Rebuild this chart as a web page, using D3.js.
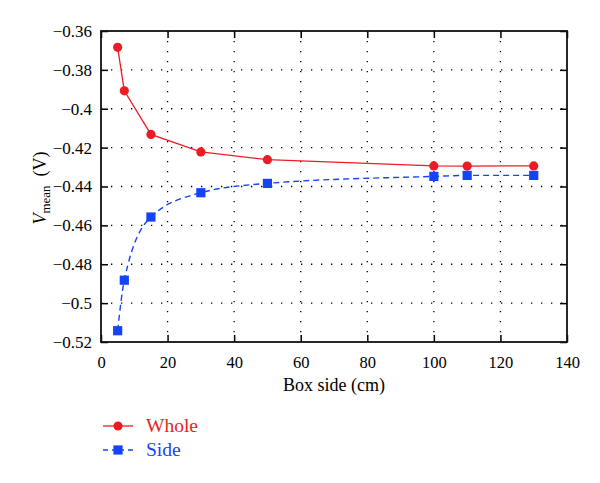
<!DOCTYPE html>
<html><head><meta charset="utf-8">
<script src="https://cdn.jsdelivr.net/npm/d3@7"></script>
<style>body{margin:0;background:#fff}svg{display:block}text{font-family:"Liberation Serif","DejaVu Serif",serif}</style>
</head><body><svg id="c" width="600" height="483"></svg>
<script>
const boxSide = [5, 7, 15, 30, 50, 100, 110, 130];
const wholeValues = [-0.3684, -0.3908, -0.4132, -0.4222, -0.4262, -0.4294, -0.4295, -0.4294];
const sideValues = [-0.5142, -0.4882, -0.4557, -0.4432, -0.4384, -0.4348, -0.4343, -0.4343];
const xTicks = [0, 20, 40, 60, 80, 100, 120, 140];
const yTicks = [-0.36, -0.38, -0.40, -0.42, -0.44, -0.46, -0.48, -0.50, -0.52];
const seriesNames = ["Whole", "Side"];

const red = "#ec1c24", blue = "#1444f5";
const svg = d3.select("#c");
const L = 101, R = 567, T = 31, B = 342;
const x = d3.scaleLinear().domain([0, 140]).range([L, R]);
const y = d3.scaleLinear().domain([-0.52, -0.36]).range([B, T]);
const fmtY = v => { const s = (+v.toFixed(2)).toString(); return s.replace("-", "\u2212"); };
const FF = "'Liberation Serif','DejaVu Serif',serif";

// grid
const g = svg.append("g");
xTicks.slice(1, -1).forEach(t => g.append("line").attr("x1", x(t)).attr("x2", x(t)).attr("y1", T).attr("y2", B)
  .attr("stroke", "#000").attr("stroke-width", 1.3).attr("stroke-dasharray", "1.3,8.7"));
yTicks.slice(1, -1).forEach(t => g.append("line").attr("x1", L).attr("x2", R).attr("y1", y(t)).attr("y2", y(t))
  .attr("stroke", "#000").attr("stroke-width", 1.3).attr("stroke-dasharray", "1.3,8.7"));

// axes with inward ticks
const tk = 7;
svg.append("g").attr("transform", `translate(0,${B})`).call(d3.axisBottom(x).tickValues(xTicks).tickSizeInner(-tk).tickSizeOuter(0).tickPadding(14))
  .call(a => { a.select(".domain").remove(); a.selectAll("line").attr("stroke-width", 1.5); a.selectAll("text").attr("font-size", 16.5).attr("font-family", FF).attr("fill", "#000"); });
svg.append("g").attr("transform", `translate(0,${T})`).call(d3.axisTop(x).tickValues(xTicks).tickSizeInner(-tk).tickSizeOuter(0).tickFormat(""))
  .call(a => { a.select(".domain").remove(); a.selectAll("line").attr("stroke-width", 1.5); });
svg.append("g").attr("transform", `translate(${L},0)`).call(d3.axisLeft(y).tickValues(yTicks).tickSizeInner(-tk).tickSizeOuter(0).tickPadding(9).tickFormat(fmtY))
  .call(a => { a.select(".domain").remove(); a.selectAll("line").attr("stroke-width", 1.5); a.selectAll("text").attr("font-size", 17).attr("font-family", FF).attr("fill", "#000"); });
svg.append("g").attr("transform", `translate(${R},0)`).call(d3.axisRight(y).tickValues(yTicks).tickSizeInner(-tk).tickSizeOuter(0).tickFormat(""))
  .call(a => { a.select(".domain").remove(); a.selectAll("line").attr("stroke-width", 1.5); });
svg.append("rect").attr("x", L).attr("y", T).attr("width", R - L).attr("height", B - T)
  .attr("fill", "none").attr("stroke", "#111").attr("stroke-width", 1.8);

// lines
const wholeData = boxSide.map((b, i) => [b, wholeValues[i]]);
const sideData = boxSide.map((b, i) => [b, sideValues[i]]);
const lineLin = d3.line().x(d => x(d[0])).y(d => y(d[1]));
const lineSm = d3.line().x(d => x(d[0])).y(d => y(d[1])).curve(d3.curveMonotoneX);
svg.append("path").attr("d", lineLin(wholeData)).attr("fill", "none").attr("stroke", red).attr("stroke-width", 1.3);
svg.append("path").attr("d", lineSm(sideData)).attr("fill", "none").attr("stroke", blue).attr("stroke-width", 1.4).attr("stroke-dasharray", "6,4");
svg.selectAll(".wp").data(wholeData).enter().append("circle").attr("cx", d => x(d[0])).attr("cy", d => y(d[1])).attr("r", 4.6).attr("fill", red);
svg.selectAll(".sp").data(sideData).enter().append("rect").attr("x", d => x(d[0]) - 4.6).attr("y", d => y(d[1]) - 4.6).attr("width", 9.2).attr("height", 9.2).attr("fill", blue);

// axis labels
svg.append("text").attr("x", 334).attr("y", 391).attr("text-anchor", "middle").attr("font-size", 18).attr("fill", "#000").text("Box side (cm)");
const yl = svg.append("text").attr("transform", "translate(46,188) rotate(-90)").attr("text-anchor", "middle").attr("font-size", 18).attr("fill", "#000");
yl.append("tspan").attr("font-style", "italic").text("V");
yl.append("tspan").attr("font-size", 13).attr("dy", 4).text("mean");
yl.append("tspan").attr("dy", -4).text("\u2002(V)");

// legend
const lg = svg.append("g");
lg.append("line").attr("x1", 103).attr("x2", 133).attr("y1", 426).attr("y2", 426).attr("stroke", red).attr("stroke-width", 1.3);
lg.append("circle").attr("cx", 118).attr("cy", 426).attr("r", 4.6).attr("fill", red);
lg.append("text").attr("x", 146).attr("y", 432).attr("font-size", 19.5).attr("fill", red).text(seriesNames[0]);
lg.append("line").attr("x1", 103).attr("x2", 133).attr("y1", 450).attr("y2", 450).attr("stroke", blue).attr("stroke-width", 1.4).attr("stroke-dasharray", "5,4,12,4,5");
lg.append("rect").attr("x", 113.4).attr("y", 445.4).attr("width", 9.2).attr("height", 9.2).attr("fill", blue);
lg.append("text").attr("x", 146).attr("y", 456).attr("font-size", 19.5).attr("fill", blue).text(seriesNames[1]);
</script></body></html>
